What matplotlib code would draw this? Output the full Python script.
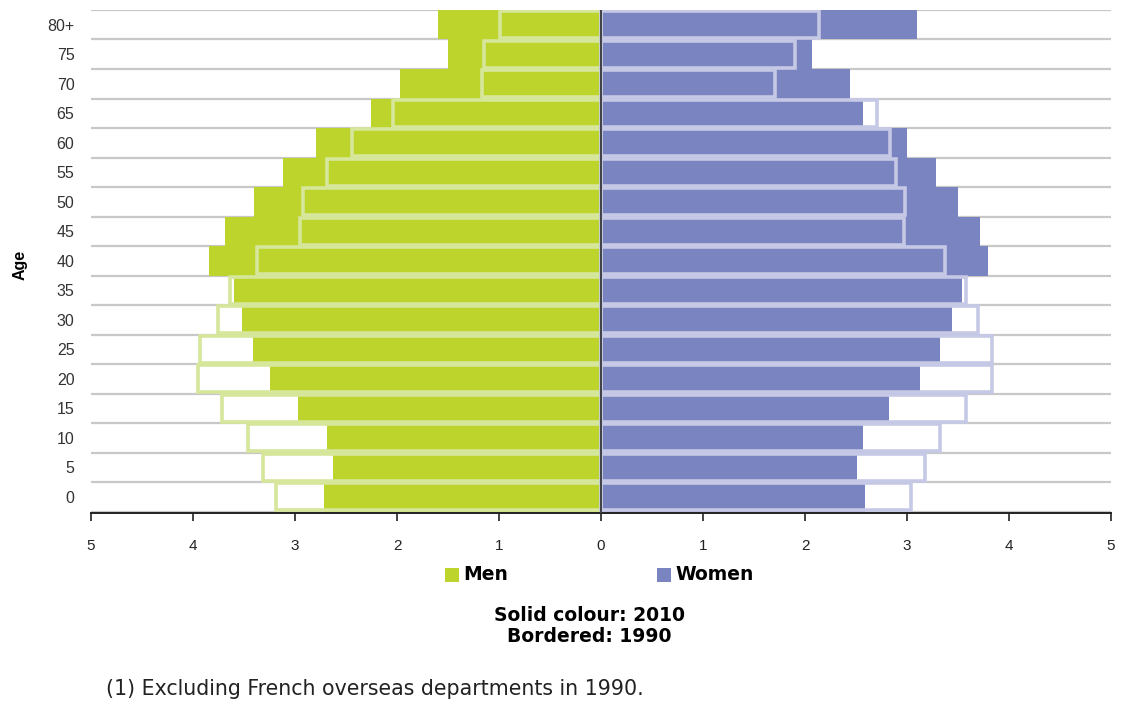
import numpy as np
import matplotlib.pyplot as plt
from matplotlib.patches import Rectangle

plt.rcParams["font.family"] = ["Liberation Sans", "DejaVu Sans"]

# age groups, bottom to top
ages = ["0", "5", "10", "15", "20", "25", "30", "35", "40", "45",
        "50", "55", "60", "65", "70", "75", "80+"]

# share of population (%), solid colour = 2010
men_2010 = [2.72, 2.63, 2.69, 2.97, 3.25, 3.41, 3.52, 3.60, 3.84, 3.69,
            3.40, 3.12, 2.79, 2.26, 1.97, 1.50, 1.60]
women_2010 = [2.59, 2.51, 2.57, 2.82, 3.13, 3.32, 3.44, 3.54, 3.79, 3.72,
              3.50, 3.28, 3.00, 2.57, 2.44, 2.07, 3.10]

# bordered = 1990
men_1990 = [3.19, 3.31, 3.46, 3.72, 3.95, 3.93, 3.76, 3.64, 3.37, 2.95,
            2.92, 2.69, 2.44, 2.04, 1.17, 1.15, 0.99]
women_1990 = [3.04, 3.18, 3.32, 3.58, 3.83, 3.83, 3.70, 3.58, 3.37, 2.97,
              2.98, 2.89, 2.83, 2.71, 1.71, 1.90, 2.14]

green = "#bcd42c"
green_edge = "#d6e69a"
blue = "#7a84c0"
blue_edge = "#c5c9e6"

fig = plt.figure(figsize=(11.31, 7.04), dpi=100)
ax = fig.add_axes([0.0805, 0.2713, 0.9018, 0.7145])

y = np.arange(len(ages))

# grid lines between the age rows
for b in np.arange(-0.5, len(ages), 1.0):
    ax.axhline(b, color="#c8c8c8", lw=1.6, zorder=0)

ax.barh(y, -np.array(men_2010), height=1.0, color=green, lw=0, zorder=2)
ax.barh(y, women_2010, height=1.0, color=blue, lw=0, zorder=2)

ax.barh(y, -np.array(men_1990), height=0.93, facecolor="none",
        edgecolor=green_edge, lw=2.6, zorder=3)
ax.barh(y, women_1990, height=0.93, facecolor="none",
        edgecolor=blue_edge, lw=2.6, zorder=3)

ax.axvline(0, color="#404048", lw=1.4, zorder=4)

ax.set_xlim(-5, 5)
ax.set_ylim(-0.55, len(ages) - 0.5)

ax.set_xticks(range(-5, 6))
ax.set_xticklabels([str(abs(v)) for v in range(-5, 6)],
                   fontsize=11, color="#222222")
ax.set_yticks(y)
ax.set_yticklabels(ages, fontsize=11.5, color="#333333")
ax.tick_params(axis="y", length=0, pad=12)
ax.tick_params(axis="x", length=6, width=1.2, direction="out", pad=13,
               color="#222222")

for side in ["top", "right", "left"]:
    ax.spines[side].set_visible(False)
ax.spines["bottom"].set_color("#222222")
ax.spines["bottom"].set_linewidth(1.4)

fig.text(0.018, 0.623, "Age", rotation=90, fontsize=11.5, fontweight="bold",
         ha="center", va="center")

# legend drawn by hand so the two keys sit where the original has them
W, H = 1131, 704
legend_items = [("Men", green, 445), ("Women", blue, 657)]
for label, colour, px in legend_items:
    fig.patches.append(Rectangle((px / W, 1 - 582 / H), 14 / W, 14 / H,
                                 transform=fig.transFigure, facecolor=colour,
                                 edgecolor="none"))
    fig.text((px + 18) / W, 1 - 575 / H, label, fontsize=13.5,
             fontweight="bold", family="DejaVu Sans", va="center")

fig.text(589 / W, 1 - 626 / H, "Solid colour: 2010\nBordered: 1990",
         ha="center", va="center", fontsize=13.5, fontweight="bold",
         family="DejaVu Sans", linespacing=1.15)

fig.text(106 / W, 1 - 689 / H,
         "(1) Excluding French overseas departments in 1990.",
         fontsize=14.8, color="#222222", family="DejaVu Sans", va="center")

fig.savefig("out.png", dpi=100)
